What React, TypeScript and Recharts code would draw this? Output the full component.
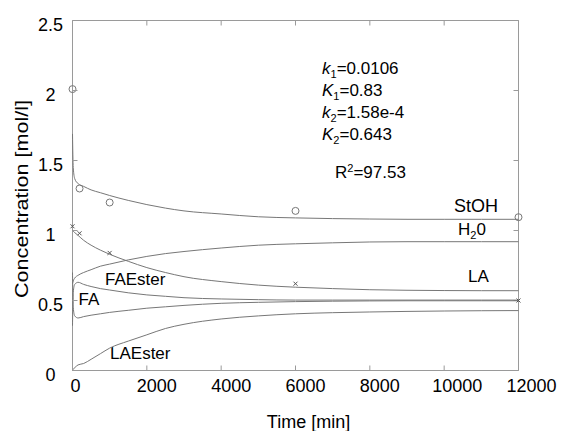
import React from 'react';
import { ComposedChart, Line, Scatter, XAxis, YAxis, ReferenceLine, ReferenceArea } from 'recharts';

// model curves, sampled at these times [min]
const times = [0, 20, 60, 150, 300, 500, 750, 1000, 1500, 2000, 2500, 3000, 4000, 5000, 6000, 7000, 8000, 9000, 10000, 11000, 12000];
const stohModel = [1.69, 1.45, 1.37, 1.335, 1.315, 1.29, 1.27, 1.25, 1.215, 1.185, 1.16, 1.14, 1.118, 1.098, 1.09, 1.085, 1.082, 1.08, 1.08, 1.08, 1.08];
const h2oModel = [0.62, 0.64, 0.66, 0.68, 0.7, 0.72, 0.745, 0.76, 0.79, 0.815, 0.835, 0.85, 0.875, 0.895, 0.905, 0.912, 0.918, 0.92, 0.92, 0.92, 0.92];
const laModel = [1.0, 0.995, 0.985, 0.965, 0.93, 0.895, 0.86, 0.83, 0.78, 0.735, 0.7, 0.67, 0.635, 0.61, 0.595, 0.585, 0.577, 0.573, 0.571, 0.57, 0.57];
const faEsterModel = [0.32, 0.56, 0.615, 0.63, 0.615, 0.6, 0.585, 0.575, 0.555, 0.54, 0.53, 0.52, 0.511, 0.506, 0.503, 0.503, 0.503, 0.503, 0.503, 0.503, 0.503];
const faModel = [0.7, 0.45, 0.39, 0.375, 0.385, 0.395, 0.405, 0.415, 0.43, 0.445, 0.455, 0.465, 0.48, 0.487, 0.492, 0.495, 0.497, 0.498, 0.498, 0.498, 0.498];
const laEsterModel = [0, 0.01, 0.02, 0.04, 0.05, 0.08, 0.12, 0.16, 0.21, 0.255, 0.3, 0.33, 0.368, 0.39, 0.405, 0.413, 0.418, 0.422, 0.425, 0.427, 0.428];

// measured points
const sampleTimes = [0, 190, 1000, 6000, 12000];
const stohMeasured = [2.01, 1.3, 1.2, 1.14, 1.095];
const laMeasured = [1.03, 0.98, 0.84, 0.62, 0.5];

const xTicks = [0, 2000, 4000, 6000, 8000, 10000, 12000];
const yTicks = [0, 0.5, 1, 1.5, 2, 2.5];

const LINE = '#777777';
const FRAME = '#9a9a9a';
const FONT = '"Liberation Sans", Arial, sans-serif';

const modelRows = times.map((t, i) => ({
  t,
  stoh: stohModel[i],
  h2o: h2oModel[i],
  la: laModel[i],
  faEster: faEsterModel[i],
  fa: faModel[i],
  laEster: laEsterModel[i],
}));
const stohPoints = sampleTimes.map((t, i) => ({ t, v: stohMeasured[i] }));
const laPoints = sampleTimes.map((t, i) => ({ t, v: laMeasured[i] }));

// ticks point inward; drawn as paths
const BottomTick = ({ x, y, payload }: any) => {
  const label = String(payload.value);
  const dx = label.length === 1 ? -2 : label.length === 4 ? -10 : -12;
  return (
    <g>
      <path d={`M${x},${y}V${y - 5}`} stroke={FRAME} fill="none" />
      <text x={x + dx} y={y + 21} fontSize={18} fontFamily={FONT} fill="#000" stroke="none">{label}</text>
    </g>
  );
};

const LeftTick = ({ x, y, payload }: any) => (
  <g>
    <path d={`M${x},${y}H${x + 5}`} stroke={FRAME} fill="none" />
    <text x={x - 22} y={y + 10} fontSize={18} fontFamily={FONT} textAnchor="middle" fill="#000" stroke="none">{String(payload.value)}</text>
  </g>
);

const TopTickShape = (p: any) => {
  const top = Math.min(p.y1, p.y2);
  return <path d={`M${p.x1},${top}V${top + 5}`} stroke={FRAME} fill="none" />;
};
const RightTickShape = (p: any) => {
  const right = Math.max(p.x1, p.x2);
  return <path d={`M${right},${p.y1}H${right - 5}`} stroke={FRAME} fill="none" />;
};

const Circle = ({ cx, cy }: any) => <circle cx={cx} cy={cy} r={3.5} fill="none" stroke={LINE} />;
const Cross = ({ cx, cy }: any) => (
  <path d={`M${cx - 2},${cy - 2}L${cx + 2},${cy + 2}M${cx - 2},${cy + 2}L${cx + 2},${cy - 2}`} stroke="#555" />
);

const Sub = ({ children }: any) => <tspan fontSize={11} dy={4}>{children}</tspan>;

export default function App() {
  return (
    <div style={{ position: 'absolute', left: 0, top: 0, width: 561, height: 431, background: '#fff', fontFamily: FONT }}>
      <svg width={561} height={431} style={{ position: 'absolute', left: 0, top: 0, pointerEvents: 'none' }}
        fontFamily={FONT} fill="#000">
        <text x={28} y={199} fontSize={19} textAnchor="middle" transform="rotate(-90 28 199)"
          textLength={198} lengthAdjust="spacingAndGlyphs">Concentration [mol/l]</text>
        <text x={308.5} y={428} fontSize={18} textAnchor="middle">Time [min]</text>

        <g fontSize={17}>
          <text x={322} y={74}><tspan fontStyle="italic">k</tspan><Sub>1</Sub><tspan dy={-4}>=0.0106</tspan></text>
          <text x={322} y={95.5}><tspan fontStyle="italic">K</tspan><Sub>1</Sub><tspan dy={-4}>=0.83</tspan></text>
          <text x={322} y={117.5}><tspan fontStyle="italic">k</tspan><Sub>2</Sub><tspan dy={-4}>=1.58e-4</tspan></text>
          <text x={322} y={139.5}><tspan fontStyle="italic">K</tspan><Sub>2</Sub><tspan dy={-4}>=0.643</tspan></text>
          <text x={335} y={178}>R<tspan fontSize={11} dy={-6}>2</tspan><tspan dy={6}>=97.53</tspan></text>

          <text x={454} y={212} fontSize={18}>StOH</text>
          <text x={458} y={234.5}>H<Sub>2</Sub><tspan dy={-4}>0</tspan></text>
          <text x={468} y={282}>LA</text>
          <text x={105} y={285}>FAEster</text>
          <text x={78.5} y={304.5}>FA</text>
          <text x={110} y={358.5}>LAEster</text>
        </g>
      </svg>
      <ComposedChart width={561} height={431} data={modelRows} margin={{ top: 20.5, right: 42.5, bottom: 0, left: 0 }}>
        <XAxis dataKey="t" type="number" domain={[0, 12000]} ticks={xTicks} height={60.5} axisLine={false}
          tickLine={false} tickSize={0} tickMargin={0} tick={<BottomTick />} />
        <YAxis type="number" domain={[0, 2.5]} ticks={yTicks} width={72.5} axisLine={false}
          tickLine={false} tickSize={0} tickMargin={0} tick={<LeftTick />} />
        <ReferenceArea x1={0} x2={12000} y1={0} y2={2.5} fill="none" fillOpacity={0} stroke={FRAME} strokeWidth={1} />
        {xTicks.map((v) => (
          <ReferenceLine key={`tx${v}`} x={v} shape={<TopTickShape />} />
        ))}
        {yTicks.map((v) => (
          <ReferenceLine key={`ty${v}`} y={v} shape={<RightTickShape />} />
        ))}
        <Line dataKey="stoh" type="monotone" stroke={LINE} dot={false} isAnimationActive={false} />
        <Line dataKey="h2o" type="monotone" stroke={LINE} dot={false} isAnimationActive={false} />
        <Line dataKey="la" type="monotone" stroke={LINE} dot={false} isAnimationActive={false} />
        <Line dataKey="faEster" type="monotone" stroke={LINE} dot={false} isAnimationActive={false} />
        <Line dataKey="fa" type="monotone" stroke={LINE} dot={false} isAnimationActive={false} />
        <Line dataKey="laEster" type="monotone" stroke={LINE} dot={false} isAnimationActive={false} />
        <Scatter data={stohPoints} dataKey="v" shape={<Circle />} isAnimationActive={false} />
        <Scatter data={laPoints} dataKey="v" shape={<Cross />} isAnimationActive={false} />
      </ComposedChart>
    </div>
  );
}
